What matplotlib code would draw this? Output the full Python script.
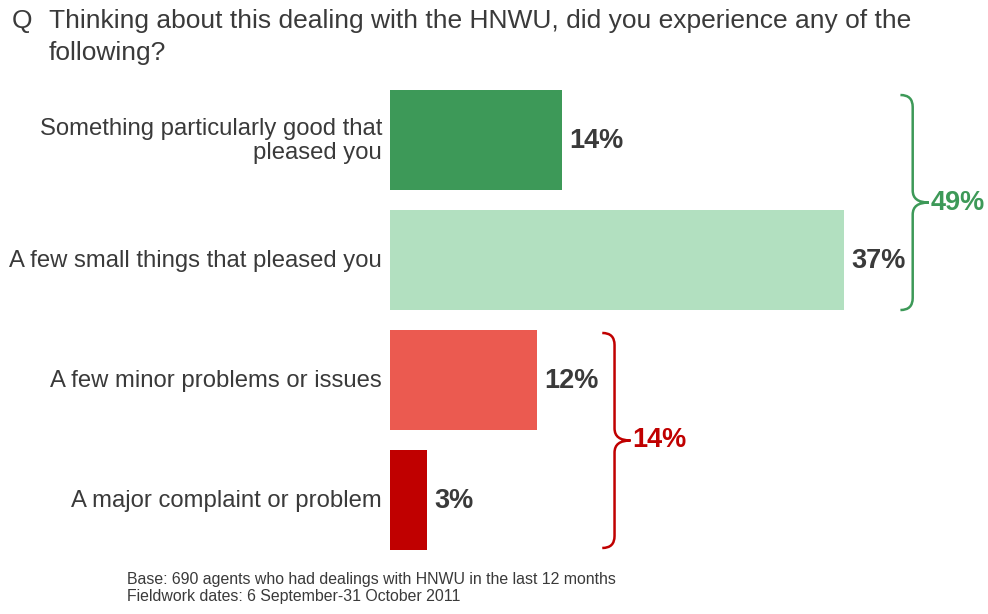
import matplotlib.pyplot as plt
from matplotlib.path import Path
from matplotlib.patches import PathPatch

plt.rcParams['font.family'] = ['Liberation Sans', 'DejaVu Sans']

labels = ["Something particularly good that\npleased you",
          "A few small things that pleased you",
          "A few minor problems or issues",
          "A major complaint or problem"]
values = [14, 37, 12, 3]
colors = ['#3d9958', '#b2e0c0', '#eb5a50', '#c00000']

# net totals shown against the braces
net_good = 49
net_bad = 14
green, red = '#3d9958', '#c00000'
grey = '#3a3a3a'

W, H = 988, 614
fig = plt.figure(figsize=(W / 100, H / 100), dpi=100)
# axes placed in pixel terms: bars start at x=390, rows 120 px apart
px_per_unit = 12.27
left, right = 390, 988
top, bottom = 80, 560
ax = fig.add_axes([left / W, 1 - bottom / H, (right - left) / W, (bottom - top) / H])
ax.set_xlim(0, (right - left) / px_per_unit)
ax.set_ylim(3.5, -0.5)
ax.axis('off')

pos = range(len(values))
ax.barh(pos, values, height=100 / 120, color=colors)

for i, (v, lab) in enumerate(zip(values, labels)):
    ax.text(v + 0.6, i + 0.01, f"{v}%", va='center', ha='left', fontsize=19.5,
            fontweight='bold', color=grey)
    ax.text(-0.65, i + 0.01, lab, va='center', ha='right', fontsize=17.2,
            color=grey, linespacing=1.1)


def brace(x, y0, y1, color, text):
    ym = (y0 + y1) / 2
    dx, dy = 1.0, 0.1
    verts = [(x - dx, y0), (x, y0), (x, y0 + dy),
             (x, ym - dy), (x, ym), (x + 1.3, ym),
             (x, ym), (x, ym + dy),
             (x, y1 - dy), (x, y1), (x - dx, y1)]
    codes = [Path.MOVETO, Path.CURVE3, Path.CURVE3,
             Path.LINETO, Path.CURVE3, Path.CURVE3,
             Path.CURVE3, Path.CURVE3,
             Path.LINETO, Path.CURVE3, Path.CURVE3]
    ax.add_patch(PathPatch(Path(verts, codes), fill=False, edgecolor=color,
                           lw=1.8, clip_on=False))
    ax.text(x + 1.45, ym, text, va='center', ha='left', fontsize=19.5,
            fontweight='bold', color=color, clip_on=False)


brace(values[1] + 5.6, -0.375, 1.417, green, f"{net_good}%")
brace(values[2] + 6.3, 1.608, 3.4, red, f"{net_bad}%")

fig.text(12 / W, 1 - 28 / H, "Q", fontsize=19, color=grey, va='baseline')
fig.text(49 / W, 1 - 28 / H,
         "Thinking about this dealing with the HNWU, did you experience any of the",
         fontsize=19, color=grey, va='baseline')
fig.text(49 / W, 1 - 60 / H, "following?", fontsize=19, color=grey, va='baseline')
fig.text(127 / W, 1 - 584 / H,
         "Base: 690 agents who had dealings with HNWU in the last 12 months",
         fontsize=11.4, color=grey, va='baseline')
fig.text(127 / W, 1 - 601 / H, "Fieldwork dates: 6 September-31 October 2011",
         fontsize=11.4, color=grey, va='baseline')

fig.savefig('out.png', dpi=100, facecolor='white')
